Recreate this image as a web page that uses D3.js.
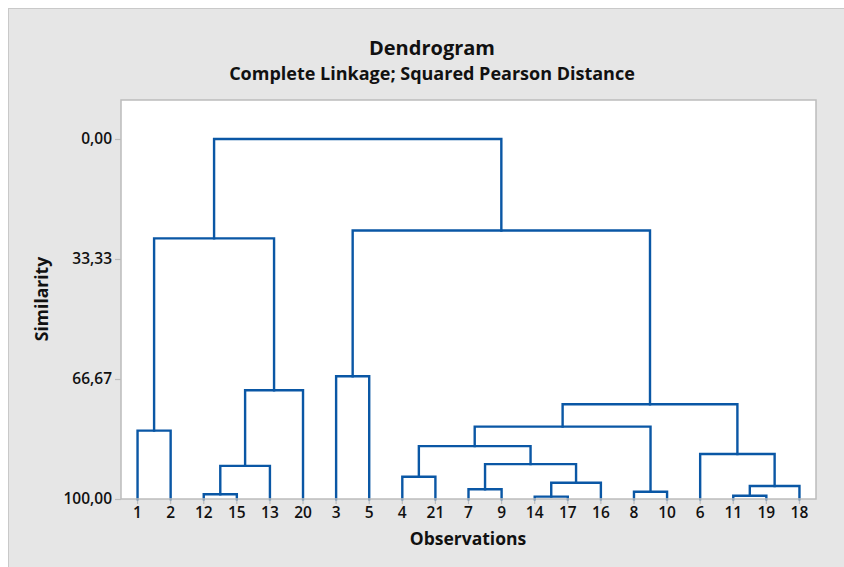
<!DOCTYPE html>
<html>
<head>
<meta charset="utf-8">
<script src="https://cdn.jsdelivr.net/npm/d3@7"></script>
<style>
  html, body { margin: 0; padding: 0; background: #ffffff; }
  svg { display: block; }
  text { font-family: "Open Sans", "Noto Sans", sans-serif; fill: #111; }
</style>
</head>
<body>
<svg id="chart" width="844" height="567"></svg>
<script>
// ---------------- DATA ----------------
const observations = ["1","2","12","15","13","20","3","5","4","21","7","9","14","17","16","8","10","6","11","19","18"];
// merge steps: cluster "C<k>" is created at step k (1-based)
const mergeA = ["14","11","12","8","7","C2","C1","4","C3","C5","6","C8","1","C12","C14","C9","3","C13","C17","C18"];
const mergeB = ["17","19","15","10","9","18","16","21","13","C7","C6","C10","2","C4","C11","20","5","C16","C15","C19"];
const mergeSimilarity = [99.35, 99.1, 98.7, 98.0, 97.3, 96.4, 95.5, 93.8, 90.8, 90.3, 87.5, 85.3, 81.0, 79.9, 73.7, 69.8, 65.9, 27.6, 25.4, 0.0];
const yTickValues = [0, 33.33, 66.67, 100];
const yTickLabels = ["0,00", "33,33", "66,67", "100,00"];
const titleText = "Dendrogram";
const subtitleText = "Complete Linkage; Squared Pearson Distance";
const xTitle = "Observations";
const yTitle = "Similarity";

// ---------------- LAYOUT ----------------
const W = 844, H = 567;
const plot = { left: 121, right: 816, top: 100, bottom: 499 };
const lineColor = "#0a57a5";
const frameColor = "#bcbcbc";

const svg = d3.select("#chart");

// outer panel
svg.append("rect").attr("x", 8.5).attr("y", 8.5).attr("width", W).attr("height", H)
  .attr("fill", "#e6e6e6").attr("stroke", "#c9c9c9").attr("stroke-width", 1);

// plot area
svg.append("rect").attr("x", plot.left).attr("y", plot.top)
  .attr("width", plot.right - plot.left).attr("height", plot.bottom - plot.top)
  .attr("fill", "#ffffff");

const x = d3.scaleBand().domain(observations).range([plot.left, plot.right]).padding(0);
const y = d3.scaleLinear().domain([100, 0]).range([plot.bottom, 139]);

// axes
const yAxis = d3.axisLeft(y).tickValues(yTickValues).tickSize(6).tickPadding(3)
  .tickFormat((d, i) => yTickLabels[i]);
const gy = svg.append("g").attr("transform", `translate(${plot.left},0)`).call(yAxis);
gy.select(".domain").remove();
gy.selectAll(".tick line").attr("stroke", frameColor).attr("stroke-width", 1.2);
gy.selectAll(".tick text").attr("font-size", 15.5).attr("font-weight", 600)
  .attr("font-family", "'Open Sans', sans-serif").attr("fill", "#111");

const xAxis = d3.axisBottom(x).tickSize(5).tickPadding(3);
const gx = svg.append("g").attr("transform", `translate(0,${plot.bottom})`).call(xAxis);
gx.select(".domain").remove();
gx.selectAll(".tick line").attr("stroke", frameColor).attr("stroke-width", 1.2);
gx.selectAll(".tick text").attr("font-size", 15.5).attr("font-weight", 600)
  .attr("font-family", "'Open Sans', sans-serif").attr("fill", "#111");

// dendrogram
const pos = {};
observations.forEach(o => { pos[o] = { x: x(o) + x.bandwidth() / 2, s: 100 }; });
const g = svg.append("g").attr("fill", "none").attr("stroke", lineColor)
  .attr("stroke-width", 2.4).attr("stroke-linejoin", "miter").attr("stroke-linecap", "square");
mergeA.forEach((a, i) => {
  const b = mergeB[i];
  const s = mergeSimilarity[i];
  const pa = pos[a], pb = pos[b];
  const path = d3.path();
  path.moveTo(pa.x, y(pa.s));
  path.lineTo(pa.x, y(s));
  path.lineTo(pb.x, y(s));
  path.lineTo(pb.x, y(pb.s));
  g.append("path").attr("d", path.toString());
  pos["C" + (i + 1)] = { x: (pa.x + pb.x) / 2, s: s };
});

// frame
svg.append("rect").attr("x", plot.left).attr("y", plot.top)
  .attr("width", plot.right - plot.left).attr("height", plot.bottom - plot.top)
  .attr("fill", "none").attr("stroke", frameColor).attr("stroke-width", 1.5);

// titles
svg.append("text").attr("x", 432).attr("y", 55).attr("text-anchor", "middle")
  .attr("font-size", 20).attr("font-weight", 700).text(titleText);
svg.append("text").attr("x", 432).attr("y", 80).attr("text-anchor", "middle")
  .attr("font-size", 18).attr("font-weight", 700).text(subtitleText);
svg.append("text").attr("x", 468).attr("y", 545).attr("text-anchor", "middle")
  .attr("font-size", 17.5).attr("font-weight", 700).text(xTitle);
svg.append("text").attr("transform", "translate(48,299) rotate(-90)").attr("text-anchor", "middle")
  .attr("font-size", 17.5).attr("font-weight", 700).text(yTitle);
</script>
</body>
</html>
